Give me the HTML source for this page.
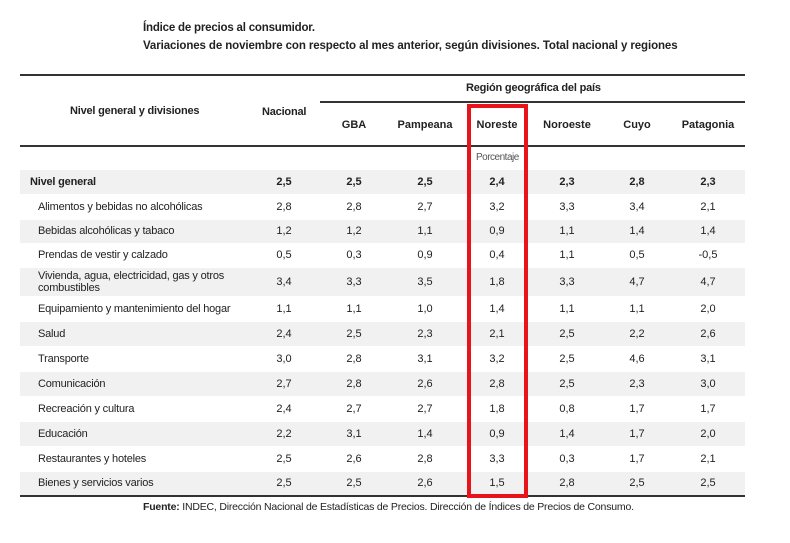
<!DOCTYPE html>
<html><head><meta charset="utf-8">
<style>
body{margin:0;width:790px;height:543px;background:#fff;position:relative;overflow:hidden;font-family:"Liberation Sans Narrow","Liberation Sans",sans-serif;color:#222}
.t{position:absolute;white-space:nowrap;font-size:11px;letter-spacing:-0.2px}
.b{font-weight:bold}
.line{position:absolute;background:#333}
.row{position:absolute;left:20px;width:725px}
.c{position:absolute;transform:translateX(-50%);font-size:11px;white-space:nowrap}
</style></head><body>
<div class="t b" style="left:143px;top:22px;font-size:11.5px">Índice de precios al consumidor.</div>
<div class="t b" style="left:143px;top:40px;font-size:11.5px;letter-spacing:-0.1px">Variaciones de noviembre con respecto al mes anterior, según divisiones. Total nacional y regiones</div>
<div class="line" style="left:20px;top:74px;width:725px;height:2px"></div>
<div class="line" style="left:320px;top:101px;width:425px;height:2px"></div>
<div class="line" style="left:20px;top:145px;width:725px;height:2px"></div>
<div class="t b" style="left:70px;top:105px">Nivel general y divisiones</div>
<div class="t b" style="left:262px;top:106px">Nacional</div>
<div class="t b" style="left:466px;top:82px">Región geográfica del país</div>
<div id="rows"></div>
<div class="t" style="left:476px;top:152px;color:#555;font-size:10px;letter-spacing:-0.5px">Porcentaje</div>
<div class="line" style="left:20px;top:495px;width:725px;height:2px"></div>
<div class="t" style="left:143px;top:501px;font-size:10.5px"><b>Fuente:</b> INDEC, Dirección Nacional de Estadísticas de Precios. Dirección de Índices de Precios de Consumo.</div>
<div style="position:absolute;left:467px;top:104px;width:53px;height:386px;border:4px solid #e8141c"></div>
<script>
const columns=["Nacional","GBA","Pampeana","Noreste","Noroeste","Cuyo","Patagonia"];
const categories=["Nivel general","Alimentos y bebidas no alcohólicas","Bebidas alcohólicas y tabaco","Prendas de vestir y calzado","Vivienda, agua, electricidad, gas y otros combustibles","Equipamiento y mantenimiento del hogar","Salud","Transporte","Comunicación","Recreación y cultura","Educación","Restaurantes y hoteles","Bienes y servicios varios"];
const nacional=["2,5","2,8","1,2","0,5","3,4","1,1","2,4","3,0","2,7","2,4","2,2","2,5","2,5"];
const gba=["2,5","2,8","1,2","0,3","3,3","1,1","2,5","2,8","2,8","2,7","3,1","2,6","2,5"];
const pampeana=["2,5","2,7","1,1","0,9","3,5","1,0","2,3","3,1","2,6","2,7","1,4","2,8","2,6"];
const noreste=["2,4","3,2","0,9","0,4","1,8","1,4","2,1","3,2","2,8","1,8","0,9","3,3","1,5"];
const noroeste=["2,3","3,3","1,1","1,1","3,3","1,1","2,5","2,5","2,5","0,8","1,4","0,3","2,8"];
const cuyo=["2,8","3,4","1,4","0,5","4,7","1,1","2,2","4,6","2,3","1,7","1,7","1,7","2,5"];
const patagonia=["2,3","2,1","1,4","-0,5","4,7","2,0","2,6","3,1","3,0","1,7","2,0","2,1","2,5"];
const series=[nacional,gba,pampeana,noreste,noroeste,cuyo,patagonia];
const colX=[284,354,425,497,567,637,708];
const host=document.getElementById('rows');
columns.slice(1).forEach((name,j)=>{
  const h=document.createElement('div');
  h.className='c b';
  
  
  h.style.left=colX[j+1]+'px';h.style.top='119px';
  h.textContent=name;document.body.appendChild(h);
});
let y=170;
categories.forEach((cat,i)=>{
  const h=(i===4)?29:(i===2||i===3||i===12)?24:25;
  const r=document.createElement('div');
  r.className='row';
  
  
  r.style.top=y+'px';r.style.height=(h-1)+'px';
  r.style.background=(i%2===0)?'#f1f1f1':'#fff';
  const l=document.createElement('div');
  l.className='t'+(i===0?' b':'');
  
  
  l.style.left=(i===0?10:18)+'px';
  if(i===4){l.style.top='2px';l.style.lineHeight='12px';l.style.whiteSpace='normal';l.style.width='200px';}
  else{l.style.top=(h/2-7)+'px';}
  l.textContent=cat;r.appendChild(l);
  series.forEach((s,j)=>{
    const c=document.createElement('div');
    c.className='c'+(i===0?' b':'');
    
    
    c.style.left=(colX[j]-20)+'px';c.style.top=(h/2-7)+'px';
    c.textContent=s[i];r.appendChild(c);
  });
  host.appendChild(r);
  y+=h;
});
</script>
</body></html>
